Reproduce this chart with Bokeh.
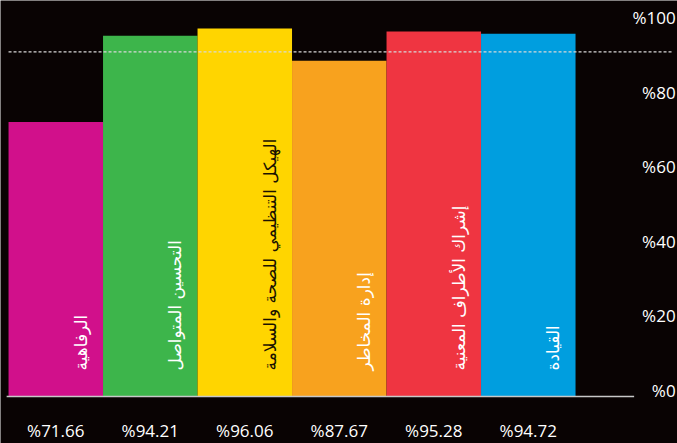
import math
from bokeh.plotting import figure
from bokeh.models import Range1d
from bokeh.core.properties import value
from bokeh.embed import file_html
from bokeh.resources import INLINE

# ---- data ----
categories = ["الرفاهية", "التحسين المتواصل", "الهيكل التنظيمي للصحة والسلامة",
              "إدارة المخاطر", "إشراك الأطراف المعنية", "القيادة"]
values = [71.66, 94.21, 96.06, 87.67, 95.28, 94.72]
value_labels = ["%71.66", "%94.21", "%96.06", "%87.67", "%95.28", "%94.72"]
tick_values = [0, 20, 40, 60, 80, 100]
tick_labels = ["%0", "%20", "%40", "%60", "%80", "%100"]
target = 90

# ---- styles ----
bar_colors = ["#D1108B", "#3DB54B", "#FFD500", "#F8A21E", "#EF3541", "#009EDF"]
label_colors = ["#FFFFFF", "#FFFFFF", "#1A1200", "#FFFFFF", "#FFFFFF", "#FFFFFF"]
bg = "#090303"

idx = list(range(len(categories)))

p = figure(width=677, height=443, output_backend="svg", toolbar_location=None,
           x_range=Range1d(-0.585, 6.579), y_range=Range1d(-12.27, 103.39),
           x_axis_location=None, y_axis_location=None, min_border=0,
           background_fill_color=bg, border_fill_color=bg, outline_line_color=None)
p.grid.visible = False
# tick labels of the infographic sit on a slightly different scale than the bars
p.extra_y_ranges = {"ticks": Range1d(-14.21, 104.56)}

p.vbar(x=idx, top=values, bottom=0, width=1.0, fill_color=bar_colors, line_color=None)

# baseline
p.segment(x0=[-0.52], y0=[0], x1=[6.12], y1=[0], line_color="#c8c8c8", line_width=1.5)

# target dashed line
p.segment(x0=[-0.5], y0=[target], x1=[6.537], y1=[target], line_color="#d8d8d8",
          line_dash="3 2", line_width=1.2)

# category labels inside bars (rotated)
p.text(x=idx, y=[6.8] * len(idx), text=categories, angle=math.pi / 2,
       text_align="left", text_baseline="middle", x_offset=25,
       text_color=label_colors, text_font=value("DejaVu Sans"), text_font_size="17px")

# right-side tick labels
xr = p.x_range.end - 0.02
p.text(x=[xr] * len(tick_values), y=tick_values, text=tick_labels, y_range_name="ticks",
       text_align="right", text_baseline="middle", text_color="#FFFFFF",
       text_font=value("Open Sans"), text_font_size="17px")

# bottom value labels
p.text(x=idx, y=[-8.9] * len(idx), text=value_labels,
       text_align="center", text_baseline="middle", text_color="#FFFFFF",
       text_font=value("Open Sans"), text_font_size="17px")

open("out.html", "w").write(file_html(p, INLINE))
